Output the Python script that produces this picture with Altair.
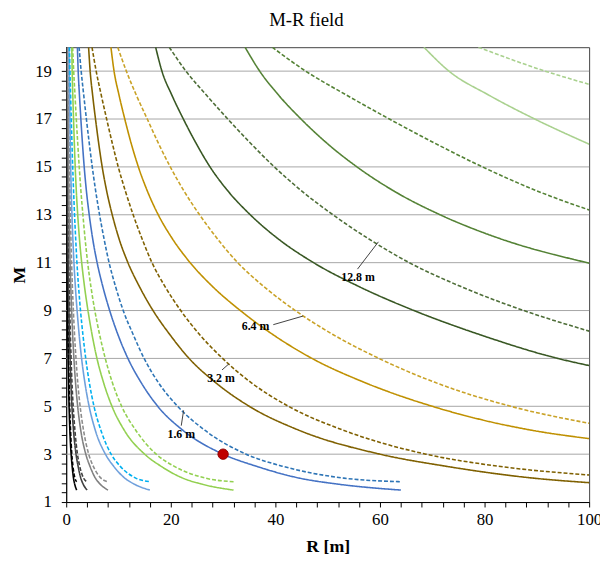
import altair as alt
import pandas as pd

# ---------------- data ----------------
M_SOLID = [20, 19, 18, 17, 16, 15, 14, 13, 12, 11, 10, 9, 8, 7, 6, 5, 4, 3, 2.5, 2, 1.75, 1.5]
M_DASH = [20, 19, 18, 17, 16, 15, 14, 13, 12, 11, 10, 9, 8, 7, 6, 5, 4, 3, 2.5, 2, 1.85]

R_005_S = [0.067, 0.072, 0.079, 0.088, 0.097, 0.107, 0.121, 0.138, 0.158, 0.185, 0.219, 0.260, 0.309, 0.367, 0.445, 0.547, 0.695, 0.938, 1.13, 1.39, 1.62, 2.0]
R_005_D = [0.077, 0.090, 0.105, 0.121, 0.138, 0.156, 0.176, 0.199, 0.226, 0.256, 0.295, 0.342, 0.398, 0.467, 0.551, 0.664, 0.828, 1.07, 1.29, 1.66, 2.0]
R_01_S = [0.134, 0.143, 0.158, 0.175, 0.194, 0.215, 0.241, 0.275, 0.316, 0.370, 0.438, 0.520, 0.617, 0.734, 0.891, 1.09, 1.39, 1.88, 2.27, 2.79, 3.24, 4.0]
R_01_D = [0.154, 0.179, 0.209, 0.241, 0.275, 0.311, 0.352, 0.398, 0.452, 0.513, 0.590, 0.684, 0.797, 0.934, 1.10, 1.33, 1.66, 2.15, 2.58, 3.32, 4.0]
R_02_S = [0.267, 0.286, 0.316, 0.350, 0.388, 0.430, 0.483, 0.550, 0.633, 0.739, 0.875, 1.04, 1.23, 1.47, 1.78, 2.19, 2.78, 3.75, 4.53, 5.58, 6.48, 8.0]
R_02_D = [0.308, 0.358, 0.419, 0.483, 0.550, 0.622, 0.703, 0.797, 0.903, 1.03, 1.18, 1.37, 1.59, 1.87, 2.20, 2.66, 3.31, 4.30, 5.16, 6.64, 8.0]
R_04_S = [0.534, 0.572, 0.631, 0.700, 0.775, 0.859, 0.966, 1.10, 1.27, 1.48, 1.75, 2.08, 2.47, 2.94, 3.56, 4.38, 5.56, 7.50, 9.06, 11.2, 13.0, 16.0]
R_04_D = [0.616, 0.716, 0.838, 0.966, 1.10, 1.24, 1.41, 1.59, 1.81, 2.05, 2.36, 2.73, 3.19, 3.73, 4.41, 5.31, 6.63, 8.59, 10.3, 13.3, 16.0]
R_08_S = [1.07, 1.14, 1.26, 1.40, 1.55, 1.72, 1.93, 2.20, 2.53, 2.96, 3.50, 4.16, 4.94, 5.88, 7.13, 8.75, 11.1, 15.0, 18.1, 22.3, 25.9, 32.0]
R_08_D = [1.23, 1.43, 1.68, 1.93, 2.20, 2.49, 2.81, 3.19, 3.61, 4.10, 4.72, 5.47, 6.38, 7.47, 8.81, 10.6, 13.3, 17.2, 20.6, 26.6, 32.0]
R_16_S = [2.14, 2.29, 2.53, 2.80, 3.10, 3.44, 3.86, 4.40, 5.06, 5.91, 7.00, 8.31, 9.88, 11.8, 14.3, 17.5, 22.3, 30.0, 36.3, 44.6, 51.9, 64.0]
R_16_D = [2.46, 2.86, 3.35, 3.86, 4.40, 4.98, 5.63, 6.38, 7.23, 8.20, 9.44, 10.9, 12.8, 14.9, 17.6, 21.3, 26.5, 34.4, 41.3, 53.1, 64.0]
R_32_S = [4.28, 4.58, 5.05, 5.60, 6.20, 6.88, 7.73, 8.80, 10.1, 11.8, 14.0, 16.6, 19.8, 23.5, 28.5, 35.0, 44.5, 60.0, 72.5, 89.3, 100]
M_32_S = [20, 19, 18, 17, 16, 15, 14, 13, 12, 11, 10, 9, 8, 7, 6, 5, 4, 3, 2.5, 2, 1.81]
R_32_D = [4.93, 5.73, 6.70, 7.73, 8.80, 9.95, 11.3, 12.8, 14.5, 16.4, 18.9, 21.9, 25.5, 29.9, 35.3, 42.5, 53.0, 68.8, 82.5, 100]
M_32_D = [20, 19, 18, 17, 16, 15, 14, 13, 12, 11, 10, 9, 8, 7, 6, 5, 4, 3, 2.5, 2.13]
R_64_S = [8.55, 9.15, 10.1, 11.2, 12.4, 13.8, 15.5, 17.6, 20.3, 23.7, 28.0, 33.3, 39.5, 47.0, 57.0, 70.0, 89.0, 100]
M_64_S = [20, 19, 18, 17, 16, 15, 14, 13, 12, 11, 10, 9, 8, 7, 6, 5, 4, 3.65]
R_64_D = [9.85, 11.5, 13.4, 15.5, 17.6, 19.9, 22.5, 25.5, 28.9, 32.8, 37.8, 43.8, 51.0, 59.8, 70.5, 85.0, 100]
M_64_D = [20, 19, 18, 17, 16, 15, 14, 13, 12, 11, 10, 9, 8, 7, 6, 5, 4.29]
R_128_S = [17.1, 18.3, 20.2, 22.4, 24.8, 27.5, 30.9, 35.2, 40.5, 47.3, 56.0, 66.5, 79.0, 94.0, 100]
M_128_S = [20, 19, 18, 17, 16, 15, 14, 13, 12, 11, 10, 9, 8, 7, 6.7]
R_128_D = [19.7, 22.9, 26.8, 30.9, 35.2, 39.8, 45.0, 51.0, 57.8, 65.6, 75.5, 87.5, 100]
M_128_D = [20, 19, 18, 17, 16, 15, 14, 13, 12, 11, 10, 9, 8.14]
R_256_S = [34.2, 37.0, 40.6, 44.9, 49.8, 55.6, 62.6, 71.5, 83.0, 100]
M_256_S = [20, 19, 18, 17, 16, 15, 14, 13, 12, 10.98]
R_256_D = [39.4, 45.8, 53.6, 61.8, 70.4, 79.6, 90.0, 100]
M_256_D = [20, 19, 18, 17, 16, 15, 14, 13.2]
R_512_S = [68.4, 73.2, 80.8, 89.6, 100]
M_512_S = [20, 19, 18, 17, 15.95]
R_512_D = [78.8, 91.6, 100]
M_512_D = [20, 19, 18.45]

CURVE_NAMES = ["0.05 s", "0.05 d", "0.1 s", "0.1 d", "0.2 s", "0.2 d", "0.4 s", "0.4 d",
               "0.8 s", "0.8 d", "1.6 s", "1.6 d", "3.2 s", "3.2 d", "6.4 s", "6.4 d",
               "12.8 s", "12.8 d", "25.6 s", "25.6 d", "51.2 s", "51.2 d"]
CURVE_R = [R_005_S, R_005_D, R_01_S, R_01_D, R_02_S, R_02_D, R_04_S, R_04_D,
           R_08_S, R_08_D, R_16_S, R_16_D, R_32_S, R_32_D, R_64_S, R_64_D,
           R_128_S, R_128_D, R_256_S, R_256_D, R_512_S, R_512_D]
CURVE_M = [M_SOLID, M_DASH, M_SOLID, M_DASH, M_SOLID, M_DASH, M_SOLID, M_DASH,
           M_SOLID, M_DASH, M_SOLID, M_DASH, M_32_S, M_32_D, M_64_S, M_64_D,
           M_128_S, M_128_D, M_256_S, M_256_D, M_512_S, M_512_D]
CURVE_COLORS = ["#000000", "#000000", "#404040", "#404040", "#808080", "#8c8c8c",
                "#6fa0dc", "#00b0f0", "#92d050", "#92d050", "#4472c4", "#2e75b6",
                "#7f6000", "#7f6000", "#bf9000", "#c9a227", "#385723", "#4e6e38",
                "#548235", "#548235", "#a9d18e", "#a9d18e"]

GRID_M = [3, 5, 7, 9, 11, 13, 15, 17, 19]

POINT_R = [30]
POINT_M = [3]

LABELS = ["1.6 m", "3.2 m", "6.4 m", "12.8 m"]
LABEL_R = [22.0, 29.6, 36.2, 55.8]
LABEL_M = [3.82, 6.2, 8.37, 10.4]
LEADER_R1 = [22.0, 29.8, 39.6, 55.7]
LEADER_M1 = [4.19, 6.52, 8.41, 10.73]
LEADER_R2 = [22.45, 31.1, 45.3, 59.7]
LEADER_M2 = [4.83, 6.77, 8.77, 11.87]

X_TICKS = [v * 4 for v in range(26)]
Y_TICKS = [round(1 + 0.4 * k, 1) for k in range(48)]

# ---------------- build tables ----------------
rows = []
for name, rs, ms in zip(CURVE_NAMES, CURVE_R, CURVE_M):
    pts = sorted(zip(rs, ms))
    for i, (r, m) in enumerate(pts):
        rows.append({"curve": name, "R": r, "M": m, "i": i,
                     "style": "dash" if name.endswith("d") else "solid"})
curves_df = pd.DataFrame(rows)

FONT = "Liberation Serif"

xscale = alt.Scale(domain=[0, 100], nice=False, zero=False)
yscale = alt.Scale(domain=[1, 20], nice=False, zero=False)

x_axis = alt.Axis(values=X_TICKS, labelExpr="datum.value % 20 === 0 ? datum.label : ''",
                  grid=False, title="R [m]", tickSize=5, labelPadding=5,
                  labelFlush=False, labelOverlap=False, titlePadding=10)
y_axis = alt.Axis(values=Y_TICKS,
                  labelExpr="(abs(datum.value - round(datum.value)) < 0.01 && round(datum.value) % 2 === 1) ? format(datum.value, 'd') : ''",
                  grid=False, title="M", tickSize=5, labelPadding=10,
                  labelFlush=False, labelOverlap=False, titlePadding=6)


def X(field):
    return alt.X(field, scale=xscale, axis=x_axis)


def Y(field):
    return alt.Y(field, scale=yscale, axis=y_axis)


grid = alt.Chart(pd.DataFrame({"M": GRID_M})).mark_rule(color="#a6a6a6", strokeWidth=1).encode(
    y=Y("M:Q")
)

lines = alt.Chart(curves_df).mark_line(strokeWidth=1.6, interpolate="monotone", clip=True).encode(
    x=X("R:Q"),
    y=Y("M:Q"),
    color=alt.Color("curve:N", scale=alt.Scale(domain=CURVE_NAMES, range=CURVE_COLORS), legend=None),
    strokeDash=alt.StrokeDash("style:N", scale=alt.Scale(domain=["solid", "dash"], range=[[1, 0], [4, 2]]), legend=None),
    detail="curve:N",
    order="i:Q",
)

lab_df = pd.DataFrame({"text": LABELS, "R": LABEL_R, "M": LABEL_M,
                       "R1": LEADER_R1, "M1": LEADER_M1, "R2": LEADER_R2, "M2": LEADER_M2})

leaders = alt.Chart(lab_df).mark_rule(color="#404040", strokeWidth=1).encode(
    x=X("R1:Q"), y=Y("M1:Q"), x2="R2:Q", y2="M2:Q",
)

texts = alt.Chart(lab_df).mark_text(font=FONT, fontSize=12, fontWeight="bold", color="#000000",
                                    baseline="middle", align="center").encode(
    x=X("R:Q"), y=Y("M:Q"), text="text:N"
)

dot = alt.Chart(pd.DataFrame({"R": POINT_R, "M": POINT_M})).mark_point(
    filled=True, size=110, color="#c00000", stroke="#900000", strokeWidth=1, opacity=1
).encode(x=X("R:Q"), y=Y("M:Q"))

chart = alt.layer(grid, lines, leaders, texts, dot).properties(
    width=530, height=461,
    title=alt.TitleParams("M-R field", font=FONT, fontSize=19, fontWeight="normal",
                          color="#000000", anchor="middle", frame="bounds", offset=13),
    autosize=alt.AutoSizeParams(type="none"),
    padding={"left": 59, "top": 36, "right": 11, "bottom": 55},
).configure_view(stroke="#404040", strokeWidth=1).configure_axis(
    labelFont=FONT, labelFontSize=17, labelColor="#000000",
    titleFont=FONT, titleFontSize=18, titleFontWeight="bold", titleColor="#000000",
    domainColor="#000000", tickColor="#000000", domainWidth=1, tickWidth=1,
    labelOverlap=False,
)

chart.save("out.html", embed_options={"renderer": "svg", "actions": False})
